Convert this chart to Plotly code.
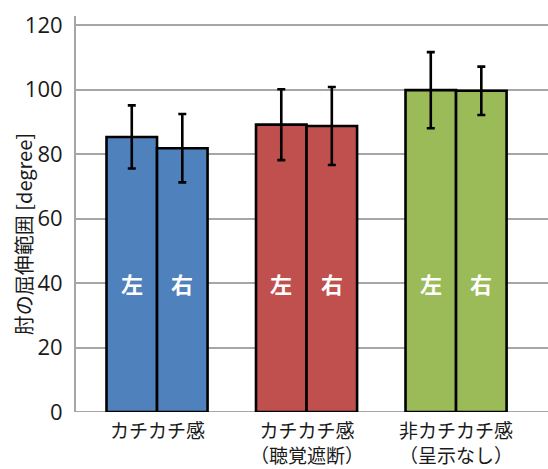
import plotly.graph_objects as go

# Elbow flexion range per condition (left / right), mean and SD
categories = ["カチカチ感", "カチカチ感<br>（聴覚遮断）", "非カチカチ感<br>（呈示なし）"]
left_values = [85.3, 89.1, 99.8]
right_values = [81.8, 88.7, 99.6]
left_err = [9.8, 11.0, 11.8]
right_err = [10.6, 12.1, 7.5]
bar_colors = ["#4F81BD", "#C0504D", "#9BBB59"]
side_labels = ["左", "右"]
label_level = 40
y_ticks = [0, 20, 40, 60, 80, 100, 120]
y_title = "肘の屈伸範囲 [degree]"

JP = "Noto Sans CJK JP, Noto Sans, sans-serif"
xpos = list(range(len(categories)))

fig = go.Figure()
for name, vals, errs in [(side_labels[0], left_values, left_err),
                         (side_labels[1], right_values, right_err)]:
    fig.add_trace(go.Bar(
        x=xpos,
        y=vals,
        name=name,
        marker=dict(color=bar_colors, line=dict(color="black", width=2.6)),
        error_y=dict(type="data", array=errs, visible=True,
                     color="black", thickness=2.6, width=4),
        showlegend=False,
    ))

# White side labels drawn inside each bar
bar_offset = 0.338 / 2
for i in xpos:
    for k, lab in enumerate(side_labels):
        fig.add_annotation(
            x=i + (-bar_offset if k == 0 else bar_offset), y=label_level,
            text="<b>" + lab + "</b>", showarrow=False,
            font=dict(family=JP, size=22, color="white"),
            xref="x", yref="y",
        )

# Category labels under the axis
for i, txt in zip(xpos, categories):
    fig.add_annotation(
        x=i, y=0, xref="x", yref="paper", yanchor="top",
        yshift=-3, text=txt, showarrow=False, borderpad=0,
        font=dict(family=JP, size=19, color="#1a1a1a"),
    )

# Vertical y-axis title
fig.add_annotation(
    x=0, y=0.449, xref="paper", yref="paper", xshift=-53,
    xanchor="center", yanchor="middle", textangle=-90,
    text=y_title, showarrow=False,
    font=dict(family=JP, size=20, color="#1a1a1a"),
)

fig.update_layout(
    width=548, height=469,
    margin=dict(l=76, r=0, t=16, b=57),
    paper_bgcolor="white", plot_bgcolor="white",
    barmode="group", bargap=0.324, bargroupgap=0,
    font=dict(family=JP, color="#1a1a1a"),
    xaxis=dict(
        range=[-0.542, 2.615], automargin=False,
        showticklabels=False,
        showgrid=False, zeroline=False, showline=False, ticks="",
    ),
    yaxis=dict(
        range=[0, 122.8], automargin=False,
        tickmode="array", tickvals=y_ticks,
        tickfont=dict(family="Open Sans, Noto Sans, sans-serif", size=22, color="#1a1a1a"),
        showgrid=True, gridcolor="#A6A6A6", gridwidth=1.6,
        zeroline=False, showline=True, linecolor="#A6A6A6", linewidth=2,
        ticks="", ticklabelstandoff=7,
    ),
)
# Baseline across the plot floor
fig.add_shape(type="line", xref="paper", yref="y", x0=0, x1=1, y0=0, y1=0,
              line=dict(color="#A6A6A6", width=2), layer="below")

fig.write_html("out.html")
